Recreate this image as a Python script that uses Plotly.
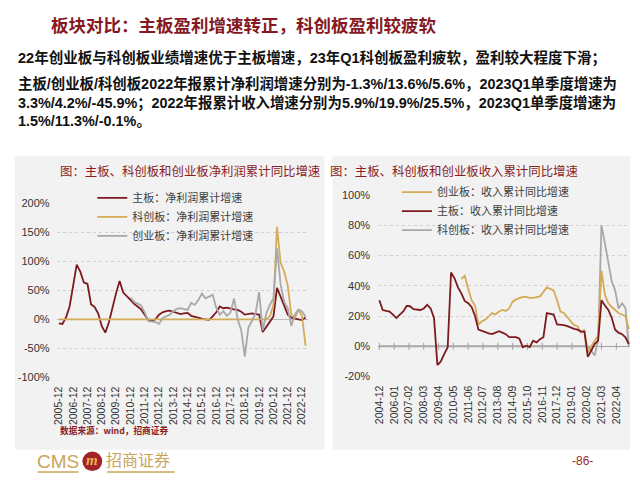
import plotly.graph_objects as go
import pandas as pd

W, H = 640, 480

# ---------------- data ----------------
left_dates = pd.date_range("2005-12-01", periods=70, freq="3MS").strftime("%Y-%m-%d").tolist()
right_dates = pd.date_range("2004-12-01", periods=74, freq="3MS").strftime("%Y-%m-%d").tolist()

left_ticks = ["2005-12", "2006-12", "2007-12", "2008-12", "2009-12", "2010-12", "2011-12",
              "2012-12", "2013-12", "2014-12", "2015-12", "2016-12", "2017-12", "2018-12",
              "2019-12", "2020-12", "2021-12", "2022-12"]
right_ticks = ["2004-12", "2006-01", "2007-02", "2008-03", "2009-04", "2010-05", "2011-06",
               "2012-07", "2013-08", "2014-09", "2015-10", "2016-11", "2017-12", "2019-01",
               "2020-02", "2021-03", "2022-04"]

# 净利润累计同比 (%)
main_np = [-7, -8, 3, 22, 58, 94, 82, 63, 61, 26,
           21, 10, -12, -23, -5, 22, 45, 66, 46, 40,
           33, 27, 22, 17, 8, -1, -2, 0, 8, 12,
           14, 15, 13, 11, 9, 10, 11, 6, 4, 3,
           1, 0, -1, 5, 12, 22, 19, 20, 18, 17,
           16, 13, 8, 9, 10, 9, 8, -22, -14, -4,
           5, 54, 39, 22, 8, 3, 1, 0, -1.3, 3.3]
star_np = [0, 0, 0, 0, 0, 0, 0, 0, 0, 0,
           0, 0, 0, 0, 0, 0, 0, 0, 0, 0,
           0, 0, 0, 0, 0, 0, 0, 0, 0, 0,
           0, 0, 0, 0, 0, 0, 0, 0, 0, 0,
           0, 0, 0, 0, 0, 0, 0, 0, 0, 0,
           0, 0, 0, 0, 0, 0, 0, 0, 0, 5,
           25, 159, 97, 82, 58, 8, 3, 16, 5.6, -45.9]
gem_np = [None, None, None, None, None, None, None, None, None, None,
          None, None, None, None, None, None, None, None, None, None,
          38, 30, 27, 24, 12, -3, -4, -5, -8, 2,
          5, 8, 14, 18, 19, 17, 16, 28, 25, 33,
          44, 36, 39, 42, 20, 8, 14, 6, 12, 36,
          0, -19, -64, -14, -3, 10, 47, -19, 10, 25,
          36, 122, 60, 30, 19, -11, 8, 17, 13.6, 4.2]

# 收入累计同比 (%)
gem_rev = [None, None, None, None, None, None, None, None, None, None,
           None, None, None, None, None, None, None, None, None, None,
           None, None, None, None, 44.5, 46.7, 38, 30.5, 27, 14.4,
           16.5, 17.6, 19.8, 22, 21, 23, 24, 23.4, 25, 29.5,
           31, 32, 32.7, 32.7, 32, 32, 32.7, 33, 36, 39,
           38, 37, 30.5, 23, 22, 19, 16.5, 14, 13.3, 9,
           11, -3.9, 0.4, 3.7, 6.9, 50, 34, 28.4, 26, 24,
           22, 21, 19.9, 11.3]
main_rev = [30.5, 24, 23.4, 23, 21, 18.7, 21, 23, 26.7, 26.5,
            24.5, 24, 24, 25, 27.4, 25, 18.7, -12.4, -10, -5,
            -0.6, 48.8, 45, 39, 35, 30, 28.5, 26, 20, 11,
            10, 9, 8.5, 8, 9, 10, 9, 8, 6, 6,
            6, 5, -0.6, 0.4, -0.6, 3.7, 2.6, 4.7, 6, 22,
            21.5, 21, 14.4, 14.4, 14, 13.3, 12.3, 11.5, 11, 9.7,
            9.7, -7, -2.8, 1.5, 3.7, 30.5, 27, 24, 18.7, 11,
            9, 8, 5.9, 1.5]
star_rev = [0, 0, 0, 0, 0, 0, 0, 0, 0, 0,
            0, 0, 0, 0, 0, 0, 0, 0, 0, 0,
            0, 0, 0, 0, 0, 0, 0, 0, 0, 0,
            0, 0, 0, 0, 0, 0, 0, 0, 0, 0,
            0, 0, 0, 0, 0, 0, 0, 0, 0, 0,
            0, 0, 0, 0, 0, 0, 0, 0, 0, 0,
            0, 0, -3, -6, 4, 80, 68, 55, 43, 37,
            25, 28.4, 25.5, -0.1]

# ---------------- styles ----------------
RED = "#7d1a1f"
GOLD = "#d4ab57"
GRAY = "#a8a8a8"
TITLE_RED = "#8b1c22"
CJK = "Noto Sans CJK SC"
LAT = "Liberation Sans, Noto Sans CJK SC"


def px(x):
    return x / W


def py(y):
    return 1 - y / H


fig = go.Figure()

# left chart traces
fig.add_trace(go.Scatter(x=left_dates, y=main_np, name="主板：净利润累计增速", mode="lines",
                         line=dict(color=RED, width=1.8), xaxis="x", yaxis="y", legend="legend"))
fig.add_trace(go.Scatter(x=left_dates, y=star_np, name="科创板：净利润累计增速", mode="lines",
                         line=dict(color=GOLD, width=1.8), xaxis="x", yaxis="y", legend="legend"))
fig.add_trace(go.Scatter(x=left_dates, y=gem_np, name="创业板：净利润累计增速", mode="lines",
                         line=dict(color=GRAY, width=1.8), xaxis="x", yaxis="y", legend="legend"))

# right chart: zero-line tick marks at label positions
right_tickvals = [t + "-01" for t in right_ticks]
fig.add_trace(go.Scatter(x=right_tickvals, y=[0 for _ in right_tickvals], mode="markers",
                         marker=dict(symbol="line-ns-open", size=5, color="#a0a0a0",
                                     line=dict(width=1, color="#a0a0a0")),
                         showlegend=False, hoverinfo="skip", xaxis="x2", yaxis="y2"))
fig.add_trace(go.Scatter(x=right_dates, y=star_rev, name="科创板：收入累计同比增速", mode="lines",
                         line=dict(color=GRAY, width=1.8), xaxis="x2", yaxis="y2", legend="legend2",
                         legendrank=3))
fig.add_trace(go.Scatter(x=right_dates, y=gem_rev, name="创业板：收入累计同比增速", mode="lines",
                         line=dict(color=GOLD, width=1.8), xaxis="x2", yaxis="y2", legend="legend2",
                         legendrank=1))
fig.add_trace(go.Scatter(x=right_dates, y=main_rev, name="主板：收入累计同比增速", mode="lines",
                         line=dict(color=RED, width=1.8), xaxis="x2", yaxis="y2", legend="legend2",
                         legendrank=2))

left_tickvals = [t + "-01" for t in left_ticks]

axis_font = dict(family="Liberation Sans", size=11, color="#333333")
xtick_font = dict(family="Liberation Sans", size=10.5, color="#333333")

layout = dict(
    width=W, height=H,
    margin=dict(l=0, r=0, t=0, b=0),
    paper_bgcolor="white",
    plot_bgcolor="rgba(0,0,0,0)",
    showlegend=True,
    xaxis=dict(domain=[px(52), px(305)], anchor="y", type="date",
               range=["2005-10-04", "2023-04-22"],
               tickmode="array", tickvals=left_tickvals, ticktext=left_ticks,
               tickangle=-90, showgrid=False, zeroline=False, showline=False,
               ticks="", tickfont=xtick_font, ticklabelstandoff=6),
    yaxis=dict(domain=[py(381), py(202)], anchor="x", range=[-100, 200],
               tickmode="array", tickvals=[-100, -50, 0, 50, 100, 150, 200],
               ticktext=["-100%", "-50%", "0%", "50%", "100%", "150%", "200%"],
               showgrid=True, gridcolor="#cfcfcf", griddash="dot", gridwidth=1,
               zeroline=True, zerolinecolor="#bdbdbd", zerolinewidth=1,
               ticks="", tickfont=axis_font, ticklabelstandoff=6),
    xaxis2=dict(domain=[px(376), px(630)], anchor="y2", type="date",
                range=["2004-10-28", "2023-04-04"],
                tickmode="array", tickvals=right_tickvals, ticktext=right_ticks,
                tickangle=-90, showgrid=False, zeroline=False, showline=False,
                ticks="", tickfont=xtick_font, ticklabelstandoff=6),
    yaxis2=dict(domain=[py(380), py(194)], anchor="x2", range=[-20, 100],
                tickmode="array", tickvals=[-20, 0, 20, 40, 60, 80, 100],
                ticktext=["-20%", "0%", "20%", "40%", "60%", "80%", "100%"],
                showgrid=True, gridcolor="#cfcfcf", griddash="dot", gridwidth=1,
                zeroline=True, zerolinecolor="#a0a0a0", zerolinewidth=1,
                ticks="", tickfont=axis_font, ticklabelstandoff=7),
    legend=dict(x=px(88), y=py(182), xanchor="left", yanchor="top",
                bgcolor="rgba(0,0,0,0)", traceorder="normal",
                font=dict(family=CJK, size=11, color="#404040"), tracegroupgap=0),
    legend2=dict(x=px(395), y=py(176), xanchor="left", yanchor="top",
                 bgcolor="rgba(0,0,0,0)", traceorder="normal",
                 font=dict(family=CJK, size=11, color="#404040"), tracegroupgap=0),
)

shapes = [
    dict(type="rect", xref="paper", yref="paper", x0=px(10), x1=px(322), y0=py(455), y1=py(154),
         fillcolor="#f2f2f2", line=dict(width=0), layer="below"),
    dict(type="rect", xref="paper", yref="paper", x0=px(330), x1=px(630), y0=py(455), y1=py(154),
         fillcolor="#f2f2f2", line=dict(width=0), layer="below"),
    # footer underlines
    dict(type="line", xref="paper", yref="paper", x0=px(33), x1=px(74), y0=py(478), y1=py(478),
         line=dict(color="#c9a45c", width=1.5)),
    dict(type="line", xref="paper", yref="paper", x0=px(103), x1=px(171), y0=py(478), y1=py(478),
         line=dict(color="#c9a45c", width=1.5)),
    # logo circle
    dict(type="circle", xref="paper", yref="paper", x0=px(78), x1=px(98), y0=py(477), y1=py(457),
         fillcolor="#a3232b", line=dict(width=0)),
]

annotations = [
    dict(text="板块对比：主板盈利增速转正，科创板盈利较疲软", x=px(44), y=py(19), xanchor="left",
         yanchor="middle", font=dict(family=CJK, size=17.5, color="#85191f", weight="bold")),
    dict(text="22年创业板与科创板业绩增速优于主板增速，23年Q1科创板盈利疲软，盈利较大程度下滑；",
         x=px(11), y=py(53), xanchor="left", yanchor="middle",
         font=dict(family=LAT, size=14.5, color="#111111", weight="bold")),
    dict(text="主板/创业板/科创板2022年报累计净利润增速分别为-1.3%/13.6%/5.6%，2023Q1单季度增速为",
         x=px(11), y=py(80), xanchor="left", yanchor="middle",
         font=dict(family=LAT, size=14.4, color="#111111", weight="bold")),
    dict(text="3.3%/4.2%/-45.9%；2022年报累计收入增速分别为5.9%/19.9%/25.5%，2023Q1单季度增速为",
         x=px(11), y=py(99), xanchor="left", yanchor="middle",
         font=dict(family=LAT, size=14.4, color="#111111", weight="bold")),
    dict(text="1.5%/11.3%/-0.1%。",
         x=px(11), y=py(118), xanchor="left", yanchor="middle",
         font=dict(family=LAT, size=14.4, color="#111111", weight="bold")),
    dict(text="图：主板、科创板和创业板净利润累计同比增速", x=px(53), y=py(169), xanchor="left",
         yanchor="middle", font=dict(family=CJK, size=12.4, color=TITLE_RED)),
    dict(text="图：主板、科创板和创业板收入累计同比增速", x=px(326), y=py(169), xanchor="left",
         yanchor="middle", font=dict(family=CJK, size=12.4, color=TITLE_RED)),
    dict(text="数据来源：wind，招商证券", x=px(53), y=py(435), xanchor="left", yanchor="middle",
         font=dict(family=CJK, size=8.7, color=TITLE_RED, weight="bold")),
    dict(text="CMS", x=px(30), y=py(467), xanchor="left", yanchor="middle",
         font=dict(family="Liberation Sans", size=19, color="#c9a45c")),
    dict(text="<i><b>m</b></i>", x=px(88), y=py(466), xanchor="center", yanchor="middle",
         font=dict(family="Liberation Serif", size=15, color="#e8b64a")),
    dict(text="招商证券", x=px(100), y=py(465), xanchor="left", yanchor="middle",
         font=dict(family=CJK, size=16, color="#c9a45c")),
    dict(text="-86-", x=px(582), y=py(467), xanchor="center", yanchor="middle",
         font=dict(family="Liberation Sans", size=12, color="#9b2a2a")),
]
for a in annotations:
    a.update(xref="paper", yref="paper", showarrow=False)

layout["shapes"] = shapes
layout["annotations"] = annotations
fig.update_layout(**layout)

fig.write_html("out.html", config={"displayModeBar": False},
               post_script="document.body.style.margin='0px';document.body.style.padding='0px';"
                           "document.documentElement.style.overflow='hidden';")
